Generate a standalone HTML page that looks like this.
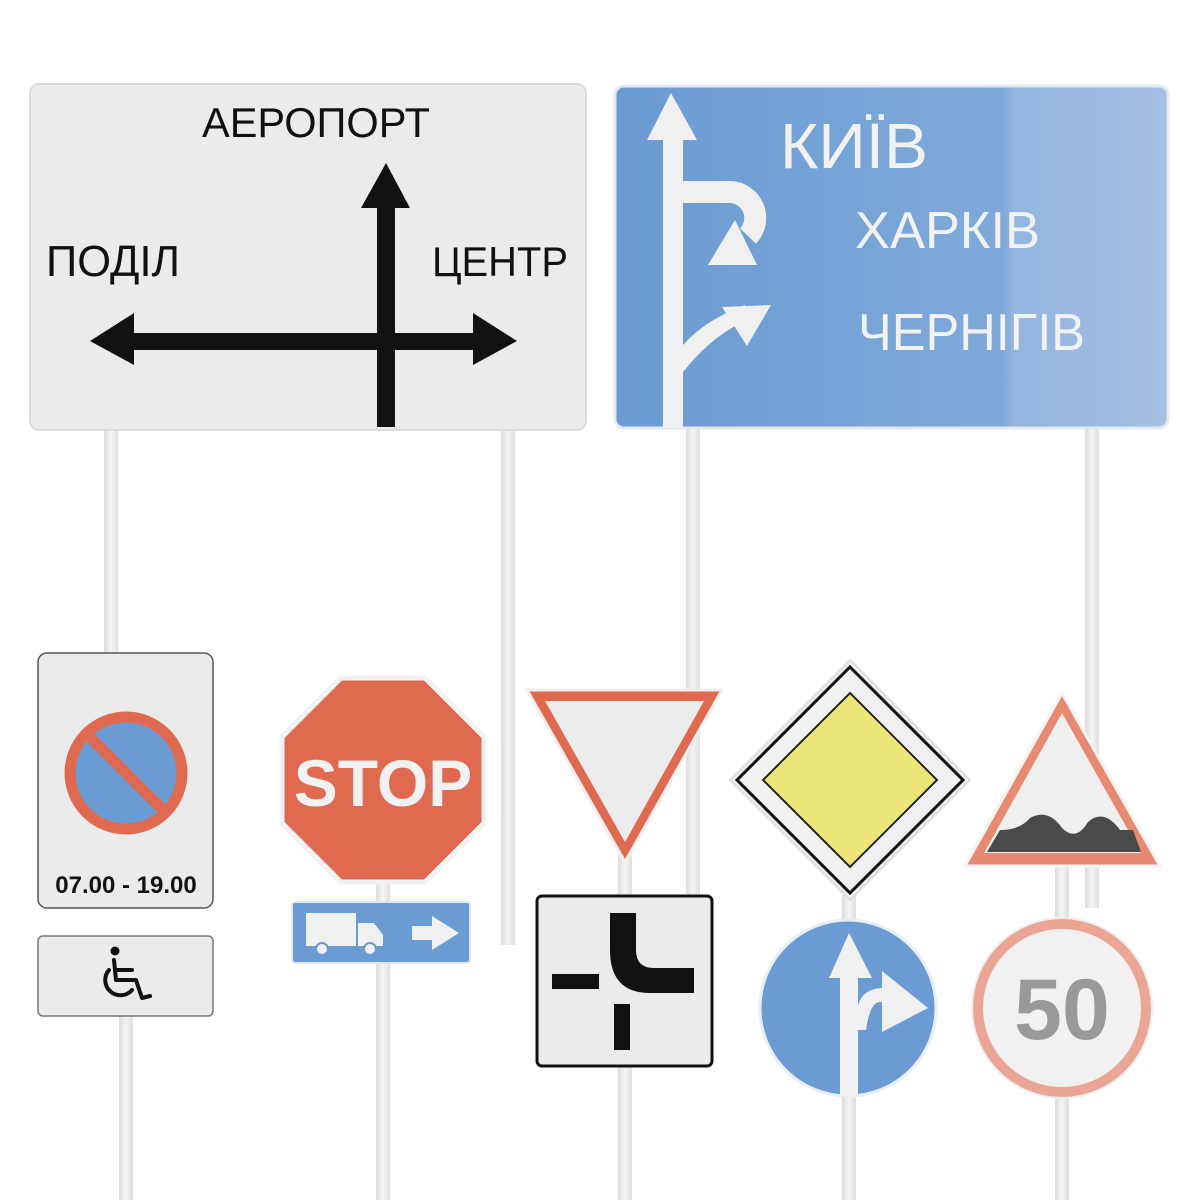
<!DOCTYPE html>
<html><head><meta charset="utf-8"><style>
html,body{margin:0;padding:0;background:#fff;}
svg{display:block;}
text{font-family:"Liberation Sans",sans-serif;}
</style></head><body>
<svg width="1200" height="1200" viewBox="0 0 1200 1200" xmlns="http://www.w3.org/2000/svg">
<defs>
<linearGradient id="bl" x1="0" x2="1" y1="0" y2="0">
<stop offset="0" stop-color="#6a9bd2"/><stop offset="0.7" stop-color="#7fa9d8"/><stop offset="0.72" stop-color="#93b5df"/><stop offset="1" stop-color="#a6c0e3"/></linearGradient>
<linearGradient id="pole" x1="0" x2="1"><stop offset="0" stop-color="#dcdcdc"/><stop offset="0.5" stop-color="#f4f4f4"/><stop offset="1" stop-color="#dedede"/></linearGradient>
</defs>
<g fill="url(#pole)">
<rect x="104" y="428" width="14" height="225"/>
<rect x="501" y="428" width="14" height="517"/>
<rect x="686" y="428" width="14" height="470"/>
<rect x="1085" y="428" width="14" height="480"/>
<rect x="119" y="1015" width="14" height="185"/>
<rect x="376" y="880" width="14" height="320"/>
<rect x="618" y="855" width="14" height="45"/>
<rect x="618" y="1064" width="14" height="136"/>
<rect x="842" y="895" width="14" height="305"/>
<rect x="1055" y="865" width="14" height="335"/>
</g>
<rect x="30" y="84" width="556" height="346" rx="9" fill="#ebebeb" stroke="#dcdcdc" stroke-width="2"/>
<text x="202" y="137" font-size="42" textLength="228" lengthAdjust="spacingAndGlyphs" fill="#111">АЕРОПОРТ</text>
<text x="46" y="276" font-size="44" textLength="134" lengthAdjust="spacingAndGlyphs" fill="#111">ПОДІЛ</text>
<text x="432" y="276" font-size="42" textLength="136" lengthAdjust="spacingAndGlyphs" fill="#111">ЦЕНТР</text>
<rect x="377" y="205" width="18" height="222" fill="#111"/>
<polygon points="361,208 386,163 410,208" fill="#111"/>
<rect x="130" y="333" width="345" height="17" fill="#111"/>
<polygon points="90,341 134,313 134,365" fill="#111"/>
<polygon points="517,341 473,313 473,365" fill="#111"/>
<rect x="615" y="86" width="553" height="342" rx="9" fill="url(#bl)" stroke="#e4e9f0" stroke-width="3"/>
<g fill="#f0f0f0" stroke="none">
<rect x="663" y="135" width="20" height="293"/>
<polygon points="647,140 671,93 697,140"/>
<path d="M683 192 L730 192 A26 26 0 0 1 748 236" fill="none" stroke="#f0f0f0" stroke-width="22"/>
<polygon points="708,265 757,265 735,220"/>
<path d="M683 345 Q705 320 745 305 L752 318 Q715 332 683 372 Z"/>
<polygon points="771,305 722,307 747,346"/>
</g>
<text x="780" y="168" font-size="64" textLength="148" lengthAdjust="spacingAndGlyphs" fill="#f2f2f2">КИЇВ</text>
<text x="855" y="248" font-size="52" textLength="185" lengthAdjust="spacingAndGlyphs" fill="#f2f2f2">ХАРКІВ</text>
<text x="858" y="350" font-size="52" textLength="227" lengthAdjust="spacingAndGlyphs" fill="#f2f2f2">ЧЕРНІГІВ</text>
<rect x="38" y="653" width="175" height="255" rx="9" fill="#ebebeb" stroke="#555" stroke-width="1.5"/>
<circle cx="126" cy="773" r="56" fill="#6a9bd2" stroke="#e06a50" stroke-width="11"/>
<line x1="88" y1="735" x2="164" y2="811" stroke="#e06a50" stroke-width="11"/>
<text x="126" y="893" font-size="24" font-weight="bold" text-anchor="middle" fill="#111">07.00 - 19.00</text>
<rect x="38" y="936" width="175" height="80" rx="5" fill="#ebebeb" stroke="#777" stroke-width="1.5"/>
<g fill="none" stroke="#111" stroke-width="4" stroke-linecap="round" stroke-linejoin="round">
<circle cx="115" cy="951" r="4.5" fill="#111" stroke="none"/>
<path d="M114 960 L116 980 L136 980 L142 998 L150 996"/>
<path d="M115 970 L132 970"/>
<path d="M109 970 A14 14 0 1 0 132 990"/>
</g>
<polygon points="341,678 425,678 484,737 484,823 425,882 341,882 282,823 282,737" fill="#e06a50" stroke="#f1f1f1" stroke-width="5"/>
<text x="383" y="806" font-size="66" font-weight="bold" text-anchor="middle" fill="#f2f2f2">STOP</text>
<rect x="292" y="902" width="178" height="61" rx="3" fill="#6a9bd2" stroke="#e6e6e6" stroke-width="2"/>
<rect x="306" y="913" width="50" height="33" fill="#f0f0f0"/>
<path d="M358 923 L374 923 L383 935 L383 946 L358 946 Z" fill="#f0f0f0"/>
<circle cx="322" cy="949" r="6" fill="#f0f0f0" stroke="#6a9bd2" stroke-width="2"/>
<circle cx="370" cy="949" r="6" fill="#f0f0f0" stroke="#6a9bd2" stroke-width="2"/>
<rect x="412" y="926" width="24" height="14" fill="#f0f0f0"/>
<polygon points="432,916 459,933 432,950" fill="#f0f0f0"/>
<polygon points="527,690 722,690 625,862" fill="#e06a50" stroke="#f0f0f0" stroke-width="3" stroke-linejoin="round"/>
<polygon points="545,701 704,701 625,842" fill="#ececec"/>
<rect x="537" y="896" width="175" height="170" rx="5" fill="#ebebeb" stroke="#111" stroke-width="3"/>
<rect x="552" y="974" width="47" height="15" fill="#111"/>
<rect x="614" y="1004" width="16" height="46" fill="#111"/>
<path d="M610 913 L636 913 L636 950 Q636 968 654 968 L694 968 L694 993 L650 993 Q610 993 610 950 Z" fill="#111"/>
<polygon points="850,660 970,780 850,900 730,780" fill="#f1f1f1" stroke="#ddd" stroke-width="2"/>
<polygon points="850,667 963,780 850,893 737,780" fill="none" stroke="#111" stroke-width="3"/>
<polygon points="850,693 937,780 850,867 763,780" fill="#ece677" stroke="#222" stroke-width="2"/>
<circle cx="848" cy="1008" r="88" fill="#6a9bd2" stroke="#e8eef5" stroke-width="3"/>
<g fill="#f0f0f0">
<rect x="840" y="975" width="18" height="122"/>
<polygon points="829,978 849,933 872,978"/>
<path d="M858 1006 Q862 988 884 988 L890 988 L890 1002 L880 1002 Q870 1002 866 1030 L858 1030 Z"/>
<polygon points="882,971 928,1008 882,1032"/>
</g>
<polygon points="1062,693 1160,866 965,866" fill="#e88a72" stroke="#f3f3f3" stroke-width="3" stroke-linejoin="round"/>
<polygon points="1062,713 1141,853 984,853" fill="#efefef"/>
<path d="M987 852 L1000 830 Q1020 830 1030 818 Q1048 808 1062 828 Q1076 842 1088 822 Q1104 808 1120 830 L1133 830 L1141 852 Z" fill="#4a4a4a"/>
<circle cx="1062" cy="1008" r="84" fill="#f1f1f1" stroke="#eba595" stroke-width="10"/>
<circle cx="1062" cy="1008" r="90" fill="none" stroke="#eee" stroke-width="2"/>
<text x="1062" y="1039" font-size="86" font-weight="bold" text-anchor="middle" fill="#999">50</text>
</svg>
</body></html>
